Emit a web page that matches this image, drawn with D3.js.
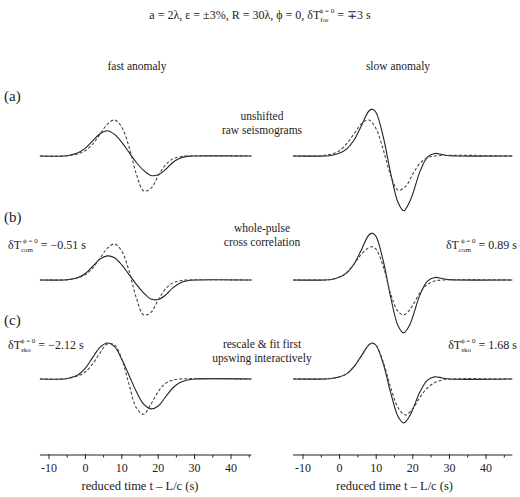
<!DOCTYPE html>
<html><head><meta charset="utf-8">
<script src="https://cdn.jsdelivr.net/npm/d3@7"></script>
<style>
body{margin:0;background:#fff}
svg text{font-family:"Liberation Serif","Times New Roman","DejaVu Serif",serif;fill:#222}
</style></head><body>
<script>
// [time (s), amplitude]; amplitude 1 = reference peak
const fastDashA = [[-6,0],[-4,0.02],[-2,0.06],[0,0.15],[2,0.33],[4,0.6],[6,0.88],[8,1.0],[10,0.8],[12,0.25],[14,-0.5],[16,-0.97],[18,-0.9],[20,-0.55],[22,-0.25],[24,-0.08],[26,-0.02],[28,0]];
const fastSolidA = [[-6,0],[-4,0.03],[-2,0.09],[0,0.22],[2,0.42],[4,0.62],[6,0.7],[8,0.6],[10,0.38],[12,0.1],[14,-0.18],[16,-0.4],[18,-0.54],[20,-0.52],[22,-0.38],[24,-0.18],[26,-0.06],[28,-0.01],[30,0]];
const fastDashB = fastDashA;
const fastSolidB = [[-6,0],[-4,0.02],[-2,0.07],[0,0.18],[2,0.38],[4,0.58],[6,0.67],[8,0.62],[10,0.42],[12,0.15],[14,-0.12],[16,-0.36],[18,-0.53],[20,-0.54],[22,-0.42],[24,-0.22],[26,-0.08],[28,-0.02],[30,0]];
const fastDashC = [[-6,0],[-4,0.03],[-2,0.09],[0,0.2],[2,0.42],[4,0.72],[6,0.97],[8,0.95],[10,0.55],[12,-0.15],[14,-0.8],[16,-0.98],[18,-0.7],[20,-0.35],[22,-0.12],[24,-0.03],[26,0]];
const fastSolidC = [[-6,0],[-4,0.04],[-2,0.12],[0,0.3],[2,0.6],[4,0.88],[6,1.0],[8,0.9],[10,0.55],[12,0.1],[14,-0.35],[16,-0.7],[18,-0.83],[20,-0.75],[22,-0.5],[24,-0.25],[26,-0.1],[28,-0.03],[30,0]];

const slowDashA = [[-6,0],[-4,0.02],[-2,0.06],[0,0.15],[2,0.35],[4,0.62],[6,0.9],[8,1.0],[10,0.75],[12,0.15],[14,-0.55],[16,-0.95],[18,-0.85],[20,-0.5],[22,-0.2],[24,-0.05],[26,0]];
const slowSolidA = [[-4,0],[-2,0.02],[0,0.08],[2,0.2],[4,0.45],[6,0.85],[8,1.25],[9,1.3],[10,1.2],[12,0.5],[14,-0.5],[16,-1.3],[17.5,-1.52],[19,-1.3],[20,-1.05],[22,-0.42],[24,-0.03],[26,0.07],[28,0.04],[30,0.01],[32,0]];
const slowDashB = [[-4,0],[-2,0.02],[0,0.08],[2,0.22],[4,0.45],[6,0.72],[8,0.9],[9,0.92],[10,0.85],[12,0.35],[14,-0.4],[16,-0.88],[17.5,-0.97],[19,-0.85],[20,-0.7],[22,-0.35],[24,-0.12],[26,-0.03],[28,0]];
const slowSolidB = [[-4,0],[-2,0.02],[0,0.08],[2,0.2],[4,0.45],[6,0.85],[8,1.25],[9,1.3],[10,1.2],[12,0.5],[14,-0.5],[16,-1.28],[17.5,-1.47],[19,-1.28],[20,-1.02],[22,-0.4],[24,-0.03],[26,0.07],[28,0.04],[30,0.01],[32,0]];
const slowDashC = [[-4,0],[-2,0.02],[0,0.06],[2,0.15],[4,0.35],[6,0.65],[8,0.95],[9,1.0],[10,0.93],[12,0.45],[14,-0.25],[16,-0.8],[18,-1.0],[20,-0.82],[22,-0.5],[24,-0.25],[26,-0.1],[28,-0.03],[30,0]];
const slowSolidC = [[-4,0],[-2,0.02],[0,0.06],[2,0.15],[4,0.35],[6,0.65],[8,0.95],[9,1.0],[10,0.93],[12,0.4],[14,-0.4],[16,-1.05],[17.5,-1.22],[19,-1.05],[20,-0.84],[22,-0.35],[24,-0.03],[26,0.06],[28,0.03],[30,0]];

const majorTicks = [-10, 0, 10, 20, 30, 40];
const minorTicks = [-5, 5, 15, 25, 35, 45];
const rowLabels = ["(a)", "(b)", "(c)"];
const rowNotes = [["unshifted", "raw seismograms"], ["whole-pulse", "cross correlation"], ["rescale & fit first", "upswing interactively"]];
const fastShift = [null, "\u22120.51 s", "\u22122.12 s"];
const slowShift = [null, "0.89 s", "1.68 s"];
const shiftSub = [null, "com", "sko"];

const width = 520, height = 497;
const baselines = [156, 280, 379];
const ampPx = 36;
const serif = "Liberation Serif, Times New Roman, DejaVu Serif, serif";

const svg = d3.select("body").append("svg").attr("width", width).attr("height", height)
    .attr("font-family", serif);

const panels = [
    { x: d3.scaleLinear().domain([-10, 40]).range([49, 231]), span: [-12.5, 45.6], dash: [fastDashA, fastDashB, fastDashC], solid: [fastSolidA, fastSolidB, fastSolidC] },
    { x: d3.scaleLinear().domain([-10, 40]).range([303, 486]), span: [-12.7, 47.2], dash: [slowDashA, slowDashB, slowDashC], solid: [slowSolidA, slowSolidB, slowSolidC] },
];

panels.forEach(p => {
    baselines.forEach((b, i) => {
        const y = d3.scaleLinear().domain([-1, 1]).range([b + ampPx, b - ampPx]);
        const line = d3.line().x(d => p.x(d[0])).y(d => y(d[1])).curve(d3.curveCatmullRom);
        const pad = s => [[p.span[0], 0]].concat(s, [[p.span[1], 0]]);
        svg.append("path").attr("d", line(pad(p.solid[i])))
            .attr("fill", "none").attr("stroke", "#222").attr("stroke-width", 1.1);
        svg.append("path").attr("d", line(pad(p.dash[i])))
            .attr("fill", "none").attr("stroke", "#444").attr("stroke-width", 1.1).attr("stroke-dasharray", "3,2");
    });
    // time axis
    const g = svg.append("g").attr("transform", "translate(0,455)");
    g.append("line").attr("x1", p.x(p.span[0])).attr("x2", p.x(p.span[1])).attr("stroke", "#222").attr("stroke-width", 1.2);
    g.selectAll(".maj").data(majorTicks).join("line").attr("x1", d => p.x(d)).attr("x2", d => p.x(d)).attr("y1", -1).attr("y2", 4).attr("stroke", "#222");
    g.selectAll(".min").data(minorTicks).join("line").attr("x1", d => p.x(d)).attr("x2", d => p.x(d)).attr("y1", 0).attr("y2", 2.5).attr("stroke", "#222");
    g.selectAll("text").data(majorTicks).join("text").attr("x", d => p.x(d)).attr("y", 17).attr("text-anchor", "middle").attr("font-size", 12).text(d => d);
    svg.append("text").attr("x", (p.x(-10) + p.x(40)) / 2).attr("y", 490).attr("text-anchor", "middle").attr("font-size", 12.5).text("reduced time t \u2013 L/c (s)");
});

// title
const title = svg.append("text").attr("x", 260).attr("y", 19).attr("text-anchor", "middle").attr("font-size", 12);
title.append("tspan").text("a = 2\u03bb, \u03b5 = \u00b13%, R = 30\u03bb, \u03d5 = 0, \u03b4T");
title.append("tspan").attr("font-size", 7).attr("dy", 3).text("for");
title.append("tspan").attr("font-size", 7).attr("dy", -9).attr("dx", -9).text("\u03d5 = 0");
title.append("tspan").attr("dy", 6).text(" = \u22133 s");

svg.append("text").attr("x", 137).attr("y", 70).attr("text-anchor", "middle").attr("font-size", 11.5).text("fast anomaly");
svg.append("text").attr("x", 398).attr("y", 70).attr("text-anchor", "middle").attr("font-size", 11.5).text("slow anomaly");

const labelY = [101, 222, 325];
rowLabels.forEach((l, i) => svg.append("text").attr("x", 4).attr("y", labelY[i]).attr("font-size", 15).text(l));

const noteY = [120, 232, 348];
rowNotes.forEach((n, i) => n.forEach((s, j) =>
    svg.append("text").attr("x", 262).attr("y", noteY[i] + j * 14).attr("text-anchor", "middle").attr("font-size", 11.5).text(s)));

function shiftLabel(x, y, anchor, sub, val) {
    const t = svg.append("text").attr("x", x).attr("y", y).attr("text-anchor", anchor).attr("font-size", 12);
    t.append("tspan").text("\u03b4T");
    t.append("tspan").attr("font-size", 7).attr("dy", 3).text(sub);
    t.append("tspan").attr("font-size", 7).attr("dy", -9).attr("dx", -10).text("\u03d5 = 0");
    t.append("tspan").attr("dy", 6).text(" = " + val);
}
const shiftY = [null, 249, 349];
[1, 2].forEach(i => {
    shiftLabel(8, shiftY[i], "start", shiftSub[i], fastShift[i]);
    shiftLabel(517, shiftY[i], "end", shiftSub[i], slowShift[i]);
});
</script>
</body></html>
